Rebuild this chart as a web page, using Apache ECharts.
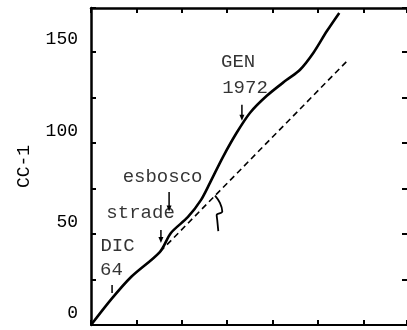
<!DOCTYPE html>
<html><head><meta charset="utf-8">
<script src="https://cdn.jsdelivr.net/npm/echarts@6/dist/echarts.min.js"></script>
<style>html,body{margin:0;padding:0;background:#fff}#c{width:407px;height:330px}</style>
</head><body><div id="c"></div>
<script>
// Solid curve (observed)
const solidX = [0, 11.2, 22.2, 38.0, 44.0, 53.4, 60.6, 65.5, 72.7, 80.2, 87.6, 96.8, 107.8, 115.1, 122.4, 129.8, 136.7];
const solidY = [0, 14.2, 26.5, 40.2, 50.5, 59.3, 68.7, 78.0, 92.3, 105.5, 116.5, 125.8, 134.6, 140.1, 149.3, 161.2, 171.3];
// Dashed extrapolation
const dashX = [38.0, 141.7];
const dashY = [40.2, 145.6];
// Annotation labels
const noteText = ['GEN', '1972', 'esbosco', 'strade', 'DIC', '64'];
const noteX = [81.0, 84.8, 39.4, 27.3, 14.6, 11.3];
const noteY = [144.5, 130.2, 81.3, 61.5, 43.4, 30.2];
// Arrows [x, yFrom, yTo]
const arrowX = [11.6, 38.5, 43.0, 83.1];
const arrowY0 = [22.0, 52.2, 73.0, 120.9];
const arrowY1 = [17.6, 46.7, 64.0, 113.7];
// Hand-drawn brace
const braceX = [68.3, 71.0, 72.3, 69.2, 69.5, 70.1];
const braceY = [71.0, 67.0, 62.3, 60.4, 57.7, 51.5];
const yTickLabels = [0, 50, 100, 150];

const FONT = 'Liberation Mono';
const chart = echarts.init(document.getElementById('c'), null, {renderer: 'canvas'});
const zip = (a, b) => a.map((v, i) => [v, b[i]]);
const axisCommon = {
  type: 'value', min: 0, max: 174, interval: 25,
  splitLine: {show: false},
  axisTick: {show: true, inside: true, length: 5, lineStyle: {color: '#000', width: 2}}
};
const arrowSeries = arrowX.map((x, i) => ({
  type: 'line', data: [[x, arrowY0[i]], [x, arrowY1[i]]], symbol: 'none',
  lineStyle: {color: '#000', width: 1.5}, silent: true, animation: false, z: 5
}));
arrowSeries.forEach((s, i) => {
  if (i > 0) {
    s.markPoint = {
      symbol: 'triangle', symbolSize: [5, 6], symbolRotate: 180,
      itemStyle: {color: '#000'}, label: {show: false},
      data: [{coord: [arrowX[i], arrowY1[i]]}]
    };
  }
});
chart.setOption({
  animation: false,
  grid: {left: 91, right: 0, top: 8, bottom: 5, containLabel: false, outerBoundsMode: 'none'},
  xAxis: [
    Object.assign({}, axisCommon, {position: 'bottom', axisLine: {show: true, onZero: false, lineStyle: {color: '#000', width: 2}}, axisLabel: {show: false}}),
    Object.assign({}, axisCommon, {position: 'top', axisLine: {show: true, onZero: false, lineStyle: {color: '#000', width: 2.5}}, axisLabel: {show: false}})
  ],
  yAxis: [
    Object.assign({}, axisCommon, {
      position: 'left',
      name: 'CC-1', nameLocation: 'middle', nameGap: 58,
      nameTextStyle: {fontFamily: FONT, fontSize: 18, color: '#000'},
      axisLine: {show: true, onZero: false, lineStyle: {color: '#000', width: 2.5}},
      axisLabel: {
        show: true, margin: 13, fontFamily: FONT, fontSize: 18, color: '#000',
        lineHeight: 24,
        formatter: v => (yTickLabels.indexOf(v) >= 0 ? String(v) + '\n ' : '')
      }
    }),
    Object.assign({}, axisCommon, {position: 'right', axisLine: {show: false, onZero: false}, axisLabel: {show: false}})
  ],
  series: [
    {type: 'line', data: zip(solidX, solidY), smooth: 0.3, symbol: 'none',
     lineStyle: {color: '#000', width: 2.6}, z: 4},
    {type: 'line', data: zip(dashX, dashY), symbol: 'none',
     lineStyle: {color: '#000', width: 1.6, type: [6, 4]}, z: 3},
    {type: 'line', data: zip(braceX, braceY), smooth: 0.4, symbol: 'none',
     lineStyle: {color: '#000', width: 1.8}, z: 3},
    {type: 'scatter', symbolSize: 1, itemStyle: {color: 'rgba(0,0,0,0)'},
     data: noteText.map((t, i) => ({value: [noteX[i], noteY[i]], name: t})),
     label: {show: true, position: 'inside', formatter: p => p.name,
             fontFamily: FONT, fontSize: 19, color: '#000'}, z: 6}
  ].concat(arrowSeries)
});
</script></body></html>
